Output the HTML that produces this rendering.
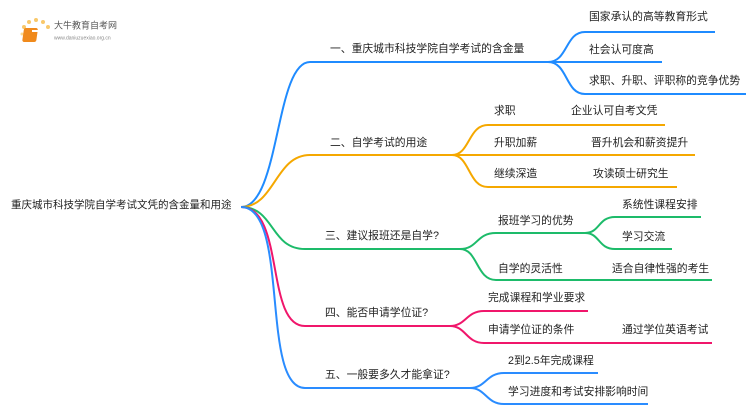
<!DOCTYPE html>
<html><head><meta charset="utf-8"><style>
html,body{margin:0;padding:0;background:#fff;}
svg{display:block;font-family:"Liberation Sans","Noto Sans CJK SC",sans-serif;}
text{font-size:10.8px;fill:#222;dominant-baseline:middle;}
</style></head><body>
<svg width="750" height="410" viewBox="0 0 750 410">
<g>
<circle cx="24" cy="27" r="2" fill="#f9c86a"/><circle cx="29" cy="22" r="2" fill="#f9c86a"/><circle cx="36" cy="20" r="2" fill="#f9c86a"/><circle cx="43" cy="22" r="2" fill="#f9c86a"/><circle cx="48" cy="27" r="2" fill="#f9c86a"/><circle cx="22" cy="34" r="1.5" fill="#fbd98f"/>
<rect x="28" y="28" width="14" height="14" rx="2" fill="#f08a1c" transform="skewX(-8)"/>
<rect x="32" y="30" width="8" height="2" fill="#fff"/>
<text x="54" y="26" style="font-size:9px;fill:#555">大牛教育自考网</text>
<text x="54" y="38" style="font-size:5px;fill:#888">www.daniuzuexiao.org.cn</text>
</g>
<g fill="none" stroke-width="2">
<path d="M241 207 C280 207 275 62 310 62 L548 62" stroke="#1f8bff"/>
<path d="M548 62 C568 62 565 32 585 32 L715 32 M548 62 L662 62 M548 62 C568 62 565 94 585 94 L746 94" stroke="#1f8bff"/>
<path d="M241 207 C275 207 275 155 310 155 L452 155" stroke="#f5a800"/>
<path d="M452 155 C470 155 468 125 488 125 L665 125 M452 155 L695 155 M452 155 C470 155 468 187 488 187 L677 187" stroke="#f5a800"/>
<path d="M241 207 C275 207 270 249 305 249 L460 249" stroke="#1dbb6a"/>
<path d="M460 249 C478 249 476 233 496 233 L585 233 M460 249 C478 249 476 280 496 280 L712 280" stroke="#1dbb6a"/>
<path d="M585 233 C600 233 598 217 615 217 L701 217 M585 233 C600 233 598 249 615 249 L672 249" stroke="#1dbb6a"/>
<path d="M241 207 C285 207 265 326 305 326 L450 326" stroke="#f0166b"/>
<path d="M450 326 C466 326 466 311 484 311 L588 311 M450 326 C466 326 466 343 484 343 L712 343" stroke="#f0166b"/>
<path d="M241 207 C290 207 260 388 305 388 L470 388" stroke="#2a8cff"/>
<path d="M470 388 C486 388 486 404 504 404 L648 404 M470 388 C486 388 486 373 504 373 L598 373" stroke="#2a8cff"/>
</g>
<text x="11" y="205" style="font-size:10.5px">重庆城市科技学院自学考试文凭的含金量和用途</text>
<text x="330" y="49">一、重庆城市科技学院自学考试的含金量</text>
<text x="589" y="17">国家承认的高等教育形式</text>
<text x="589" y="50">社会认可度高</text>
<text x="589" y="81">求职、升职、评职称的竞争优势</text>
<text x="330" y="143">二、自学考试的用途</text>
<text x="494" y="111">求职</text><text x="571" y="111">企业认可自考文凭</text>
<text x="494" y="143">升职加薪</text><text x="591" y="143">晋升机会和薪资提升</text>
<text x="494" y="174">继续深造</text><text x="593" y="174">攻读硕士研究生</text>
<text x="325" y="236">三、建议报班还是自学?</text>
<text x="498" y="221">报班学习的优势</text>
<text x="622" y="205">系统性课程安排</text>
<text x="622" y="237">学习交流</text>
<text x="498" y="269">自学的灵活性</text>
<text x="612" y="269">适合自律性强的考生</text>
<text x="325" y="313">四、能否申请学位证?</text>
<text x="488" y="298">完成课程和学业要求</text>
<text x="488" y="330">申请学位证的条件</text>
<text x="622" y="330">通过学位英语考试</text>
<text x="325" y="375">五、一般要多久才能拿证?</text>
<text x="508" y="361">2到2.5年完成课程</text>
<text x="508" y="392">学习进度和考试安排影响时间</text>
</svg>
</body></html>
